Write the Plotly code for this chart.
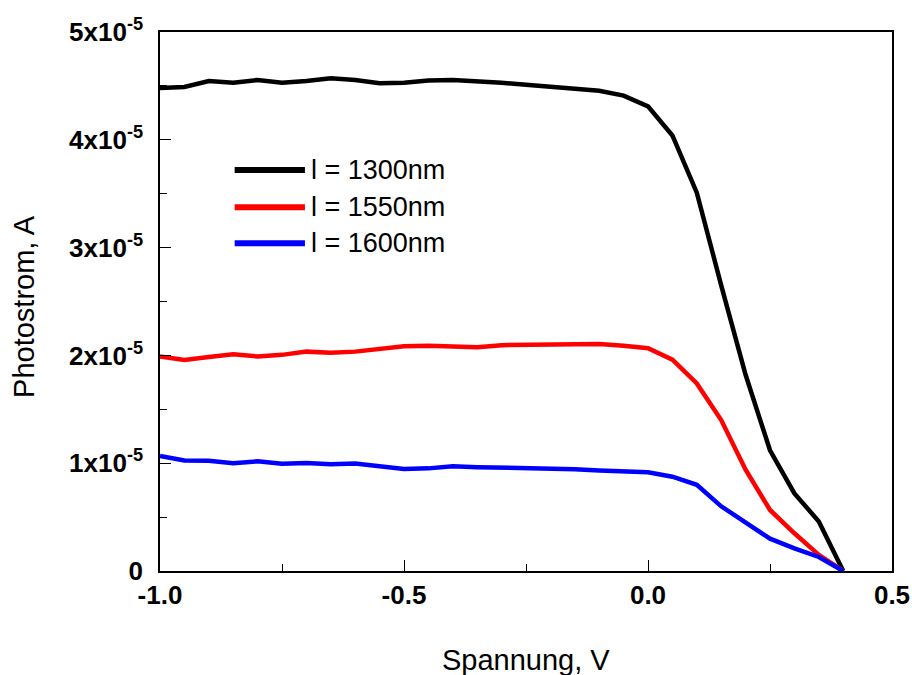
import plotly.graph_objects as go

# Bias voltage (V)
voltage = [-1.00, -0.95, -0.90, -0.85, -0.80, -0.75, -0.70, -0.65, -0.60, -0.55,
           -0.50, -0.45, -0.40, -0.35, -0.30, -0.25, -0.20, -0.15, -0.10, -0.05,
           0.00, 0.05, 0.10, 0.15, 0.20, 0.25, 0.30, 0.35, 0.40]

# Photocurrent in units of 1e-5 A
i_1300 = [4.48, 4.49, 4.545, 4.53, 4.555, 4.53, 4.545, 4.57, 4.555, 4.525,
          4.53, 4.55, 4.555, 4.545, 4.53, 4.51, 4.49, 4.48, 4.455, 4.41,
          4.31, 4.04, 3.51, 2.65, 1.82, 1.12, 0.72, 0.46, 0.0]
i_1550 = [1.99, 1.957, 1.985, 2.01, 1.99, 2.005, 2.035, 2.025, 2.035, 2.06,
          2.085, 2.09, 2.085, 2.075, 2.095, 2.10, 2.105, 2.11, 2.105, 2.09,
          2.066, 1.96, 1.74, 1.40, 0.94, 0.566, 0.35, 0.15, 0.0]
i_1600 = [1.067, 1.025, 1.023, 1.0, 1.018, 0.995, 1.003, 0.99, 0.997, 0.975,
          0.947, 0.952, 0.972, 0.963, 0.958, 0.958, 0.957, 0.945, 0.932, 0.925,
          0.915, 0.875, 0.80, 0.60, 0.455, 0.30, 0.21, 0.13, 0.0]

series_names = ["l = 1300nm", "l = 1550nm", "l = 1600nm"]
series_colors = ["#000000", "#ff0000", "#0000ff"]

x_ticks = [-1.0, -0.5, 0.0, 0.5]
x_tick_text = ["-1.0", "-0.5", "0.0", "0.5"]
y_ticks = [0, 1e-5, 2e-5, 3e-5, 4e-5, 5e-5]
y_tick_text = ["0", "1x10<sup>-5</sup>", "2x10<sup>-5</sup>", "3x10<sup>-5</sup>",
               "4x10<sup>-5</sup>", "5x10<sup>-5</sup>"]

FONT = "Arial, Liberation Sans, sans-serif"

fig = go.Figure()
for name, vals, col in zip(series_names, [i_1300, i_1550, i_1600], series_colors):
    fig.add_trace(go.Scatter(
        x=voltage, y=[v * 1e-5 for v in vals], mode="lines", name=name,
        line=dict(color=col, width=4.5), showlegend=False,
    ))

# Hand-placed legend: line sample plus label, in paper coordinates
legend_y = [0.744, 0.675, 0.608]
for name, col, ly in zip(series_names, series_colors, legend_y):
    fig.add_shape(type="line", xref="paper", yref="paper",
                  x0=0.102, x1=0.198, y0=ly, y1=ly,
                  line=dict(color=col, width=6))
    fig.add_annotation(xref="paper", yref="paper", x=0.204, y=ly,
                       text=name, showarrow=False, xanchor="left", yanchor="middle",
                       font=dict(family=FONT, size=27, color="#000"))

axis_common = dict(
    showline=True, linecolor="#000", linewidth=1.5, mirror=True,
    ticks="inside", ticklen=11, tickwidth=1.2, tickcolor="#000",
    showgrid=False, zeroline=False, automargin=False,
    tickfont=dict(family=FONT, size=26, color="#000", weight="bold"),
)

fig.update_layout(
    width=912, height=675,
    margin=dict(l=160, r=20, t=32, b=104, autoexpand=False),
    paper_bgcolor="white", plot_bgcolor="white",
    xaxis=dict(range=[-1.0, 0.5], tickvals=x_ticks, ticktext=x_tick_text,
               minor=dict(ticks="inside", ticklen=7, dtick=0.25, tick0=0,
                          tickcolor="#000", tickwidth=1.2),
               ticklabelstandoff=0, **axis_common),
    yaxis=dict(range=[0, 5e-5], tickvals=y_ticks, ticktext=y_tick_text,
               minor=dict(ticks="inside", ticklen=7, dtick=0.5e-5, tick0=0,
                          tickcolor="#000", tickwidth=1.2),
               ticklabelstandoff=10, **axis_common),
    annotations=list(fig.layout.annotations) + [
        dict(xref="paper", yref="paper", x=0.5, y=-0.165, yanchor="middle",
             text="Spannung, V", showarrow=False,
             font=dict(family=FONT, size=29, color="#000")),
        dict(xref="paper", yref="paper", x=-0.185, y=0.491, xanchor="center",
             yanchor="middle", textangle=-90, text="Photostrom, A", showarrow=False,
             font=dict(family=FONT, size=29, color="#000")),
    ],
)

fig.write_html("out.html")
